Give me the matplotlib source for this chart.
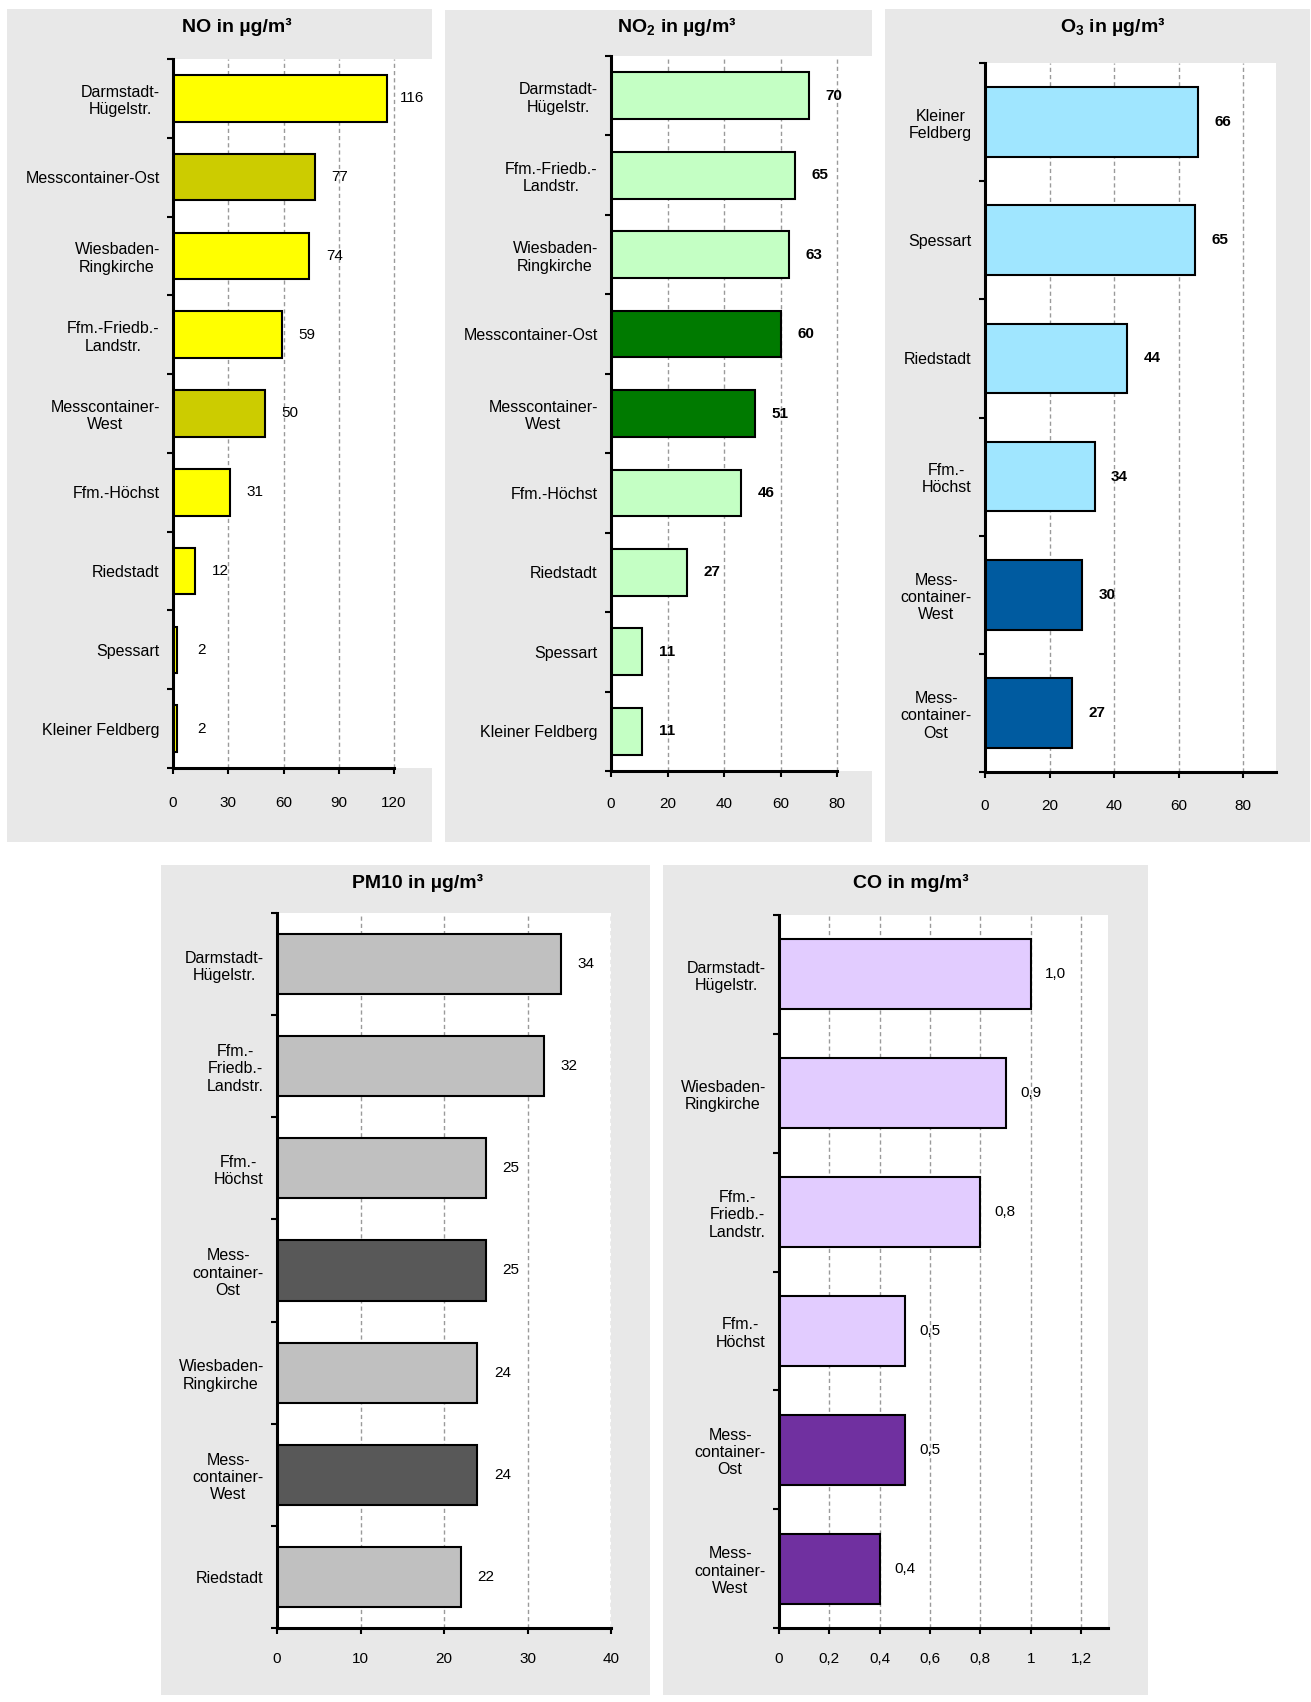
import matplotlib
matplotlib.use("Agg")
import matplotlib.pyplot as plt
from matplotlib.patches import Rectangle
import numpy as np

plt.rcParams['font.family'] = ['Liberation Sans', 'DejaVu Sans']
plt.rcParams['mathtext.fontset'] = 'custom'
plt.rcParams['mathtext.rm'] = 'Liberation Sans'
plt.rcParams['mathtext.bf'] = 'Liberation Sans:bold'

# ---------------- data ----------------
no_labels = ["Darmstadt-\nHügelstr.", "Messcontainer-Ost", "Wiesbaden-\nRingkirche",
             "Ffm.-Friedb.-\nLandstr.", "Messcontainer-\nWest", "Ffm.-Höchst",
             "Riedstadt", "Spessart", "Kleiner Feldberg"]
no_values = [116, 77, 74, 59, 50, 31, 12, 2, 2]
no_dark = [False, True, False, False, True, False, False, False, False]

no2_labels = ["Darmstadt-\nHügelstr.", "Ffm.-Friedb.-\nLandstr.", "Wiesbaden-\nRingkirche",
              "Messcontainer-Ost", "Messcontainer-\nWest", "Ffm.-Höchst",
              "Riedstadt", "Spessart", "Kleiner Feldberg"]
no2_values = [70, 65, 63, 60, 51, 46, 27, 11, 11]
no2_dark = [False, False, False, True, True, False, False, False, False]

o3_labels = ["Kleiner\nFeldberg", "Spessart", "Riedstadt", "Ffm.-\nHöchst",
             "Mess-\ncontainer-\nWest", "Mess-\ncontainer-\nOst"]
o3_values = [66, 65, 44, 34, 30, 27]
o3_dark = [False, False, False, False, True, True]

pm10_labels = ["Darmstadt-\nHügelstr.", "Ffm.-\nFriedb.-\nLandstr.", "Ffm.-\nHöchst",
               "Mess-\ncontainer-\nOst", "Wiesbaden-\nRingkirche", "Mess-\ncontainer-\nWest",
               "Riedstadt"]
pm10_values = [34, 32, 25, 25, 24, 24, 22]
pm10_dark = [False, False, False, True, False, True, False]

co_labels = ["Darmstadt-\nHügelstr.", "Wiesbaden-\nRingkirche", "Ffm.-\nFriedb.-\nLandstr.",
             "Ffm.-\nHöchst", "Mess-\ncontainer-\nOst", "Mess-\ncontainer-\nWest"]
co_values = [1.0, 0.9, 0.8, 0.5, 0.5, 0.4]
co_dark = [False, False, False, False, True, True]

no_ticks = [0, 30, 60, 90, 120]
no2_ticks = [0, 20, 40, 60, 80]
o3_ticks = [0, 20, 40, 60, 80]
pm10_ticks = [0, 10, 20, 30, 40]
co_ticks = [0, 0.2, 0.4, 0.6, 0.8, 1.0, 1.2]
co_ticklabels = ["0", "0,2", "0,4", "0,6", "0,8", "1", "1,2"]

# ---------------- figure ----------------
W, H = 1311, 1702
fig = plt.figure(figsize=(W / 100, H / 100), dpi=100)
fig.patch.set_facecolor('white')

PANEL_BG = '#E8E8E8'


def frect(x0, y0, x1, y1):
    return [x0 / W, 1 - y1 / H, (x1 - x0) / W, (y1 - y0) / H]


def panel_bg(x0, y0, x1, y1):
    fig.patches.append(Rectangle((x0 / W, 1 - y1 / H), (x1 - x0) / W, (y1 - y0) / H,
                                 transform=fig.transFigure, facecolor=PANEL_BG,
                                 edgecolor='none', zorder=-10))


def draw_panel(rect, labels, values, dark, light_c, dark_c, ticks, ticklabels,
               xmax, spine_end, value_fmt, value_bold, xpad):
    ax = fig.add_axes(rect)
    ax.set_facecolor('white')
    n = len(values)
    pos = np.arange(n)
    colors = [dark_c if d else light_c for d in dark]
    ax.barh(pos, values, height=0.59, color=colors, edgecolor='black',
            linewidth=1.5, zorder=3)
    ax.set_ylim(n - 0.5, -0.5)
    ax.set_xlim(0, xmax)
    # y: labels at centers, tick marks at boundaries
    ax.set_yticks(pos)
    ax.set_yticklabels(labels, fontsize=11.5, multialignment='center')
    ax.tick_params(axis='y', which='major', length=0, pad=9.5)
    ax.set_yticks(np.arange(n + 1) - 0.5, minor=True)
    ax.tick_params(axis='y', which='minor', length=4.5, width=1.5, direction='out')
    # x
    ax.set_xticks(ticks)
    ax.set_xticklabels(ticklabels, fontsize=11)
    ax.tick_params(axis='x', which='major', length=4, width=1.5, direction='out',
                   pad=xpad)
    ax.xaxis.grid(True, linestyle=(0, (3, 2.2)), color='#9A9A9A', linewidth=1.0,
                  zorder=0)
    ax.set_axisbelow(True)
    for s in ('top', 'right'):
        ax.spines[s].set_visible(False)
    for s in ('left', 'bottom'):
        ax.spines[s].set_linewidth(2.2)
        ax.spines[s].set_zorder(5)
    if spine_end is not None:
        ax.spines['bottom'].set_bounds(0, spine_end)
    for i, v in enumerate(values):
        ax.annotate(value_fmt(v), (v, i), xytext=(25, 0), textcoords='offset pixels',
                    ha='center', va='center', fontsize=11,
                    fontweight='bold' if value_bold else 'normal', zorder=6)
    return ax


# panel backgrounds
panel_bg(7, 9, 432, 842)
panel_bg(445, 10, 872, 842)
panel_bg(885, 9, 1310, 842)
panel_bg(161, 865, 650, 1695)
panel_bg(663, 865, 1148, 1695)

int_fmt = lambda v: f"{v:.0f}"
dec_fmt = lambda v: f"{v:.1f}".replace('.', ',')

# NO
draw_panel(frect(173, 59, 432, 768), no_labels, no_values, no_dark,
           '#FFFF00', '#CCCC00', no_ticks, [str(t) for t in no_ticks],
           120 * (432 - 173) / (394 - 173), 120, int_fmt, False, 16.5)
# NO2
draw_panel(frect(611, 56, 872, 771), no2_labels, no2_values, no2_dark,
           '#C4FFC4', '#007A00', no2_ticks, [str(t) for t in no2_ticks],
           80 * (872 - 611) / (837 - 611), 80, int_fmt, True, 15)
# O3
draw_panel(frect(985, 63, 1276, 772), o3_labels, o3_values, o3_dark,
           '#A0E6FF', '#005BA0', o3_ticks, [str(t) for t in o3_ticks],
           80 * (1276 - 985) / (1243 - 985), None, int_fmt, True, 15.5)
# PM10
draw_panel(frect(277, 913, 611, 1628), pm10_labels, pm10_values, pm10_dark,
           '#C0C0C0', '#585858', pm10_ticks, [str(t) for t in pm10_ticks],
           40, None, int_fmt, False, 13.5)
# CO
draw_panel(frect(779, 915, 1108, 1628), co_labels, co_values, co_dark,
           '#E2CCFF', '#7030A0', co_ticks, co_ticklabels,
           1.2 * (1108 - 779) / (1081 - 779), None, dec_fmt, False, 13.5)

# titles
title_kw = dict(ha='center', va='center', fontsize=14, fontweight='bold')
fig.text(237 / W, 1 - 27 / H, "NO in µg/m³", **title_kw)
fig.text(677 / W, 1 - 27 / H, r"NO$_\mathbf{2}$ in µg/m³", **title_kw)
fig.text(1113 / W, 1 - 27 / H, r"O$_\mathbf{3}$ in µg/m³", **title_kw)
fig.text(418 / W, 1 - 883 / H, "PM10 in µg/m³", **title_kw)
fig.text(911 / W, 1 - 883 / H, "CO in mg/m³", **title_kw)

fig.savefig("out.png", dpi=100, facecolor='white')
